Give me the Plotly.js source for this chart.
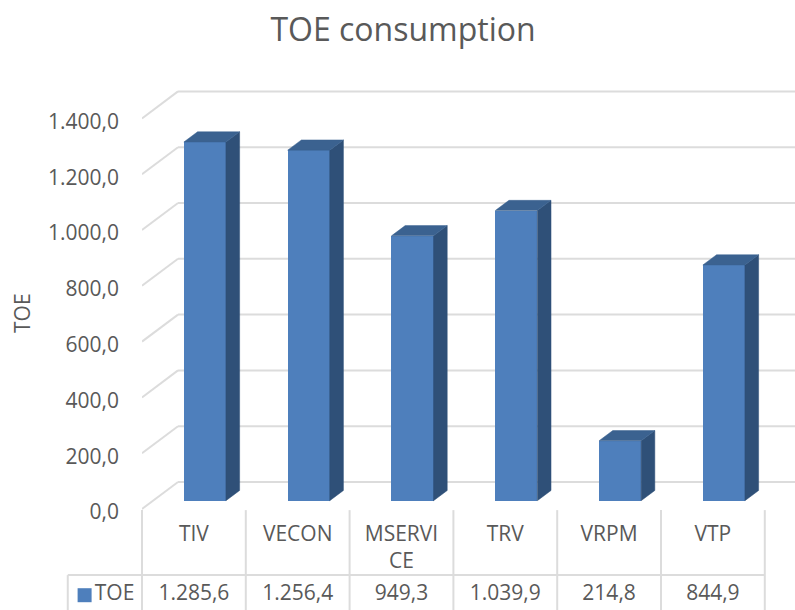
<!DOCTYPE html>
<html>
<head>
<meta charset="utf-8">
<script src="https://cdn.plot.ly/plotly-3.0.1.min.js"></script>
<style>html,body{margin:0;padding:0;background:#fff}</style>
</head>
<body>
<div id="chart" style="width:795px;height:610px"></div>
<script>
// Energy use per unit, in tonnes of oil equivalent
const categories = ['TIV', 'VECON', 'MSERVI<br>CE', 'TRV', 'VRPM', 'VTP'];
const toeValues = [1285.6, 1256.4, 949.3, 1039.9, 214.8, 844.9];
const tableLabels = ['1.285,6', '1.256,4', '949,3', '1.039,9', '214,8', '844,9'];
const yTicks = [0, 200, 400, 600, 800, 1000, 1200, 1400];

const FONT = 'Open Sans, sans-serif';
const TEXT = '#595959';
const GRID = '#dcdcdc';
const W = 795, H = 610;

// Oblique projection of the chart box, expressed in axis units
const wallDX = 0.347, wallDY = 96.8;     // floor depth
const barLiftX = 0.106, barLiftY = 29.8; // gap between floor edge and bar front
const barDX = 0.132, barDY = 36.6;       // bar depth
const barW = 0.405;
const n = categories.length;

// Screen scale of the axes
const originX = 142, originY = 509, catPx = 103.8, valPx = 0.279;
const plotTop = 90, plotBottom = 510;
const xMax = (W - originX) / catPx;

// Table rows, on a helper subplot covering the whole page with the same scale
const yCatLine = -4, yRowTop = -237, yRowBottom = -365;
const yCatText = -57, yRowText = -309;
const xTableLeft = -0.715, xKey = -0.553, xKeyText = -0.455;

// Back wall gridlines with their run across the side wall
const shapes = [];
yTicks.forEach(v => {
  shapes.push({type:'line', xref:'x', yref:'y', layer:'below',
    x0:0, y0:v, x1:wallDX, y1:v+wallDY, line:{color:GRID, width:2}});
  shapes.push({type:'line', xref:'x', yref:'y', layer:'below',
    x0:wallDX, y0:v+wallDY, x1:xMax, y1:v+wallDY, line:{color:GRID, width:2}});
});

const traces = [];
const front = categories.map((_, i) => i + 0.5 + barLiftX);

// Front faces of the bars
traces.push({type:'bar', x:front, y:toeValues, base:toeValues.map(() => barLiftY), width:barW,
  marker:{color:'#4e7fbc', line:{width:0}}, hoverinfo:'skip', showlegend:false});

// Side and top faces built from the same values
toeValues.forEach((v, i) => {
  const l = front[i] - barW/2, r = front[i] + barW/2;
  const top = barLiftY + v;
  traces.push({type:'scatter', mode:'lines', fill:'toself', fillcolor:'#2f5078',
    line:{color:'#2f5078', width:0.5}, hoverinfo:'skip', showlegend:false,
    x:[r, r+barDX, r+barDX, r, r], y:[barLiftY, barLiftY+barDY, top+barDY, top, barLiftY]});
  traces.push({type:'scatter', mode:'lines', fill:'toself', fillcolor:'#3b6290',
    line:{color:'#3b6290', width:0.5}, hoverinfo:'skip', showlegend:false,
    x:[l, l+barDX, r+barDX, r, l], y:[top, top+barDY, top+barDY, top, top]});
});

// Data table grid
const tableLine = (x, y) => ({type:'scatter', mode:'lines', x, y, xaxis:'x2', yaxis:'y2',
  line:{color:GRID, width:2}, hoverinfo:'skip', showlegend:false});
for (let i = 0; i <= n; i++) traces.push(tableLine([i, i], [yCatLine, yRowBottom]));
traces.push(tableLine([xTableLeft, n], [yRowTop, yRowTop]));
traces.push(tableLine([xTableLeft, xTableLeft], [yRowTop, yRowBottom]));

// Category names hang from a common first line; value row below them
const centers = categories.map((_, i) => i + 0.5);
traces.push({type:'scatter', mode:'text', x:centers, y:categories.map(() => yCatText), xaxis:'x2', yaxis:'y2',
  text:categories, textposition:'bottom center',
  textfont:{family:FONT, size:21, color:TEXT}, hoverinfo:'skip', showlegend:false});
traces.push({type:'scatter', mode:'text', x:centers, y:categories.map(() => yRowText), xaxis:'x2', yaxis:'y2',
  text:tableLabels, textposition:'middle center',
  textfont:{family:FONT, size:21, color:TEXT}, hoverinfo:'skip', showlegend:false});

// Series key inside the table
traces.push({type:'scatter', mode:'markers', x:[xKey], y:[yRowText], xaxis:'x2', yaxis:'y2',
  marker:{symbol:'square', size:14, color:'#4e7fbc'}, hoverinfo:'skip', showlegend:false});
traces.push({type:'scatter', mode:'text', x:[xKeyText], y:[yRowText], xaxis:'x2', yaxis:'y2', text:['TOE'],
  textposition:'middle right',
  textfont:{family:FONT, size:21, color:TEXT}, hoverinfo:'skip', showlegend:false});

const hidden = {showgrid:false, zeroline:false, showticklabels:false, ticks:'', showline:false, fixedrange:true};

const layout = {
  width:W, height:H,
  margin:{l:0, r:0, t:0, b:0, pad:0},
  paper_bgcolor:'#fff', plot_bgcolor:'rgba(0,0,0,0)',
  separators:',.',
  showlegend:false,
  title:{text:'TOE consumption', x:403/W, xref:'container', xanchor:'center',
    y:1-30/H, yref:'container', yanchor:'middle',
    font:{family:FONT, size:32, color:TEXT}},
  xaxis:Object.assign({domain:[originX/W, 1], range:[0, xMax]}, hidden),
  yaxis:{domain:[1-plotBottom/H, 1-plotTop/H],
    range:[(originY-plotBottom)/valPx, (originY-plotTop)/valPx],
    tickvals:yTicks, tickformat:',.1f', showgrid:false, zeroline:false,
    ticks:'', showline:false, ticklabelstandoff:22, ticklabelshift:3, fixedrange:true,
    tickfont:{family:FONT, size:21, color:TEXT}},
  xaxis2:Object.assign({domain:[0, 1], range:[-originX/catPx, xMax], anchor:'y2'}, hidden),
  yaxis2:Object.assign({domain:[0, 1], range:[(originY-H)/valPx, originY/valPx], anchor:'x2'}, hidden),
  annotations:[{text:'TOE', textangle:-90, xref:'paper', yref:'paper', x:22/W, y:1-313/H,
    xanchor:'center', yanchor:'middle', showarrow:false,
    font:{family:FONT, size:21, color:TEXT}}],
  bargap:0,
  shapes
};

Plotly.newPlot('chart', traces, layout, {displayModeBar:false, staticPlot:true});
</script>
</body>
</html>
